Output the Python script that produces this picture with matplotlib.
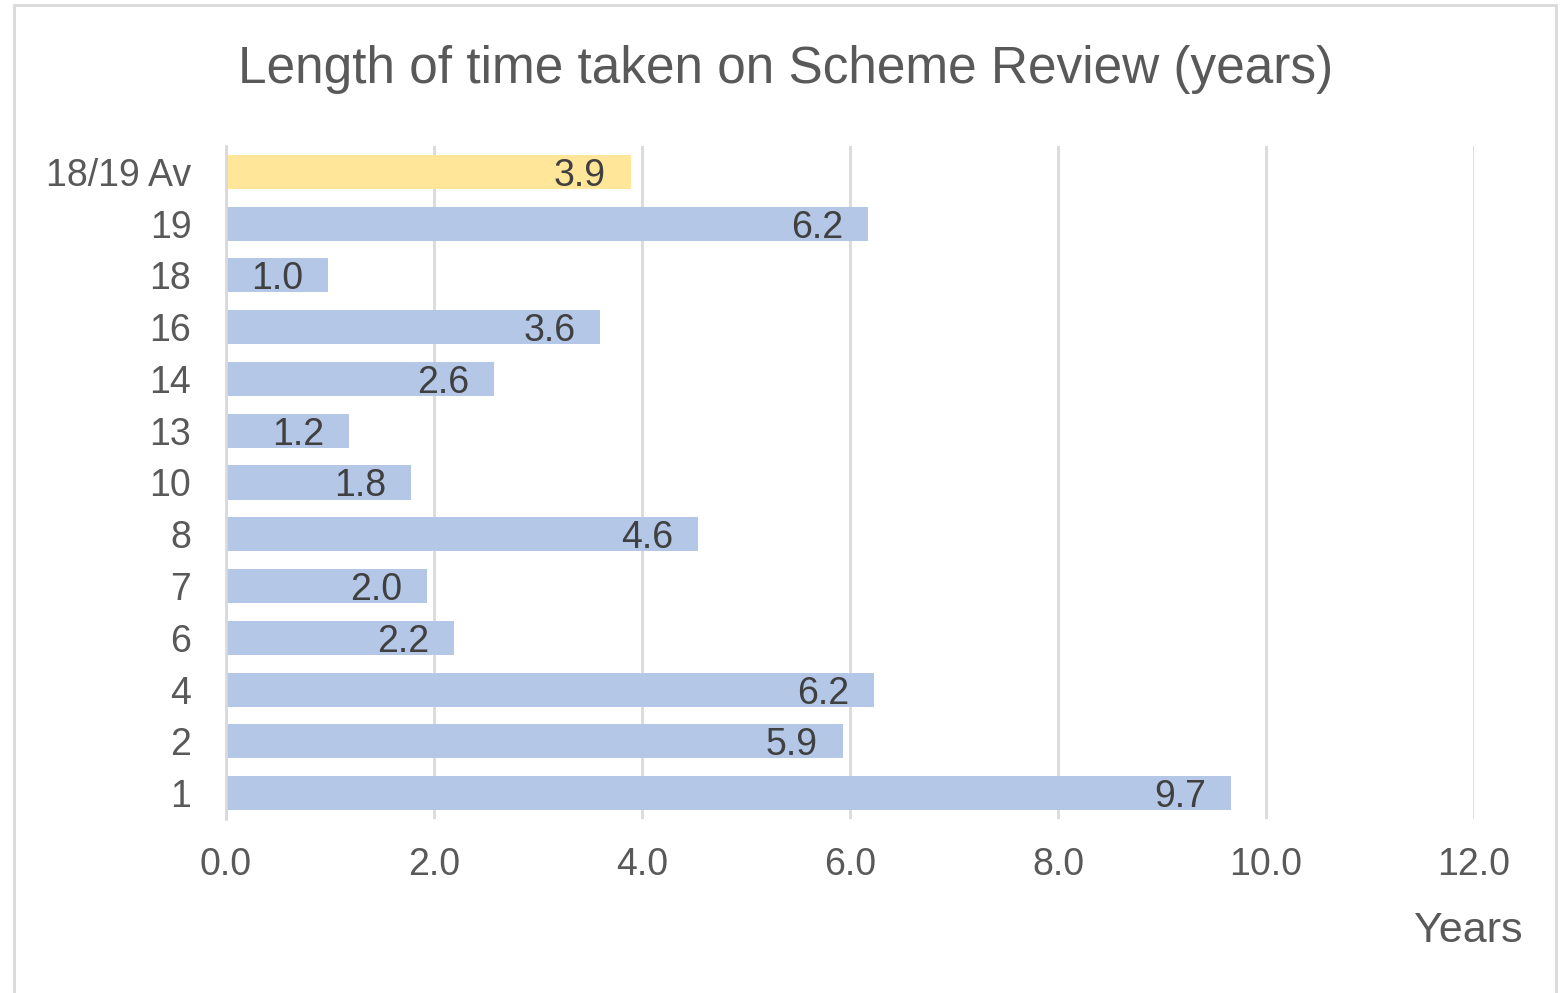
import matplotlib.pyplot as plt
from matplotlib.patches import Rectangle

plt.rcParams['font.family'] = ['Liberation Sans', 'DejaVu Sans']

categories = ['1', '2', '4', '6', '7', '8', '10', '13', '14', '16', '18', '19', '18/19 Av']
years = [9.66, 5.93, 6.23, 2.19, 1.93, 4.54, 1.78, 1.18, 2.58, 3.6, 0.98, 6.17, 3.89]
labels = ['9.7', '5.9', '6.2', '2.2', '2.0', '4.6', '1.8', '1.2', '2.6', '3.6', '1.0', '6.2', '3.9']
bar_colors = ['#B4C7E7'] * 12 + ['#FFE699']
xticks = [0, 2, 4, 6, 8, 10, 12]

text_col = '#595959'
grid_col = '#D9D9D9'

fig = plt.figure(figsize=(15.62, 9.93), dpi=100)
ax = fig.add_axes([0.1447, 0.1752, 0.7990, 0.6778])

ax.set_axisbelow(True)
ax.grid(axis='x', color=grid_col, linewidth=2)
bars = ax.barh(categories, years, height=0.66, color=bar_colors)

for b, lab in zip(bars, labels):
    ax.text(b.get_width() - 0.24, b.get_y() + b.get_height() / 2, lab,
            ha='right', va='center_baseline', fontsize=27, color='#404040')

ax.set_xlim(0, 12)
ax.set_ylim(-0.5, len(categories) - 0.5)
ax.set_xticks(xticks)
ax.set_xticklabels(['%.1f' % t for t in xticks])
ax.tick_params(axis='both', length=0, labelsize=27, labelcolor=text_col)
ax.tick_params(axis='x', pad=20)
ax.tick_params(axis='y', pad=25)

for s in ['top', 'right', 'bottom']:
    ax.spines[s].set_visible(False)
ax.spines['left'].set_color(grid_col)
ax.spines['left'].set_linewidth(2)

fig.text(0.503, 0.930, 'Length of time taken on Scheme Review (years)',
         ha='center', va='center', fontsize=37, color=text_col)
fig.text(0.975, 0.062, 'Years', ha='right', va='center', fontsize=31, color=text_col)

fig.add_artist(Rectangle((14 / 1562, -0.01), 1542 / 1562, 1 - 5 / 993 + 0.01,
                         transform=fig.transFigure, fill=False,
                         edgecolor=grid_col, linewidth=2))

fig.savefig('out.png', dpi=100)
